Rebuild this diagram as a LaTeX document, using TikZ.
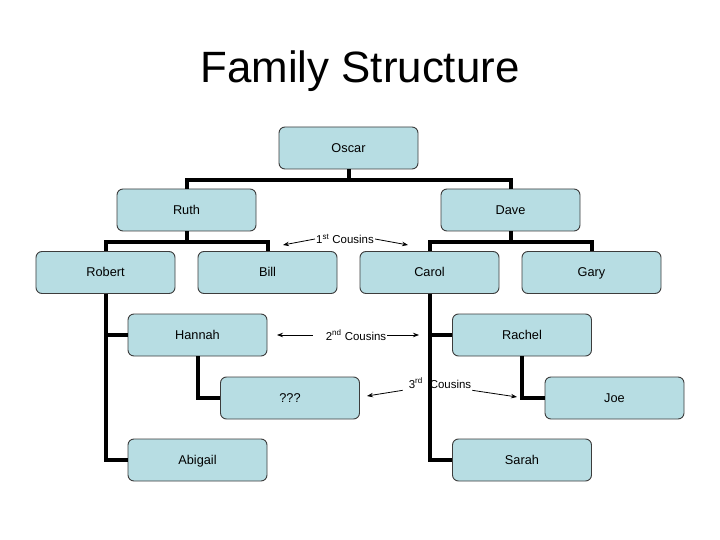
\documentclass[tikz,border=0pt]{standalone}
\usepackage{fontspec}
\setmainfont{Liberation Sans}
\usetikzlibrary{arrows.meta,calc}
\definecolor{boxfill}{RGB}{183,221,227}
\definecolor{boxline}{RGB}{60,60,60}
\tikzset{
  box/.style={draw=boxline, line width=0.9bp, fill=boxfill, rounded corners=6bp,
    minimum width=139bp, minimum height=42bp, inner sep=0pt,
    text height=9bp, text depth=0bp,
    font=\fontsize{12.8}{15}\selectfont},
  tree/.style={line width=4bp, line join=miter, draw=black},
  lbl/.style={inner sep=1bp, font=\fontsize{11.5}{14}\selectfont},
  arr/.style={line width=0.8bp, -{Stealth[length=6bp,width=4.5bp]}}
}
\begin{document}
\begin{tikzpicture}[x=1bp,y=-1bp]
\useasboundingbox (0,0) rectangle (720,540);
\node[font=\fontsize{44}{50}\selectfont] (title) at (360,71) {Family Structure};

\node[box] (oscar) at (348.5,148) {Oscar};
\node[box] (ruth) at (186.5,210) {Ruth};
\node[box] (dave) at (510.5,210) {Dave};
\node[box] (robert) at (105.5,272.5) {Robert};
\node[box] (bill) at (267.5,272.5) {Bill};
\node[box] (carol) at (429.5,272.5) {Carol};
\node[box] (gary) at (591.5,272.5) {Gary};
\node[box] (hannah) at (197.5,335) {Hannah};
\node[box] (rachel) at (522,335) {Rachel};
\node[box] (unk) at (290,398) {???};
\node[box] (joe) at (614.5,398) {Joe};
\node[box] (abigail) at (197.5,460) {Abigail};
\node[box] (sarah) at (522,460) {Sarah};

% tree connectors
\draw[tree] (oscar.south) -- ++(0,11) -| (ruth.north);
\draw[tree] (oscar.south) -- ++(0,11) -| (dave.north);
\draw[tree] (ruth.south) -- ++(0,11) -| (robert.north);
\draw[tree] (ruth.south) -- ++(0,11) -| (bill.north);
\draw[tree] (dave.south) -- ++(0,11) -| (carol.north);
\draw[tree] (dave.south) -- ++(0,11) -| (gary.north);
\draw[tree] (robert.south) |- (hannah.west);
\draw[tree] (robert.south) |- (abigail.west);
\draw[tree] (hannah.south) |- (unk.west);
\draw[tree] (carol.south) |- (rachel.west);
\draw[tree] (carol.south) |- (sarah.west);
\draw[tree] (rachel.south) |- (joe.west);

% cousin labels
\node[lbl] (c1) at (345,239) {1\textsuperscript{st} Cousins};
\node[lbl] (c2) at (356,335) {2\textsuperscript{nd} Cousins};
\node[lbl] (c3) at (440,383) {3\textsuperscript{rd}\hspace{7bp}Cousins};

\coordinate (t1l) at (283,245);
\coordinate (t1r) at (408,245);
\coordinate (t2l) at (277,335);
\coordinate (t2r) at (419,335);
\coordinate (t3l) at (367,396);
\coordinate (t3r) at (517,397);

\draw[arr] (c1.west) -- (t1l);
\draw[arr] (c1.east) -- (t1r);
\draw[arr] ([xshift=-12bp]c2.west) -- (t2l);
\draw[arr] (c2.east) -- (t2r);
\draw[arr] ([xshift=-5bp,yshift=-1bp]c3.south west) -- (t3l);
\draw[arr] ([yshift=-1bp]c3.south east) -- (t3r);
\end{tikzpicture}
\end{document}
